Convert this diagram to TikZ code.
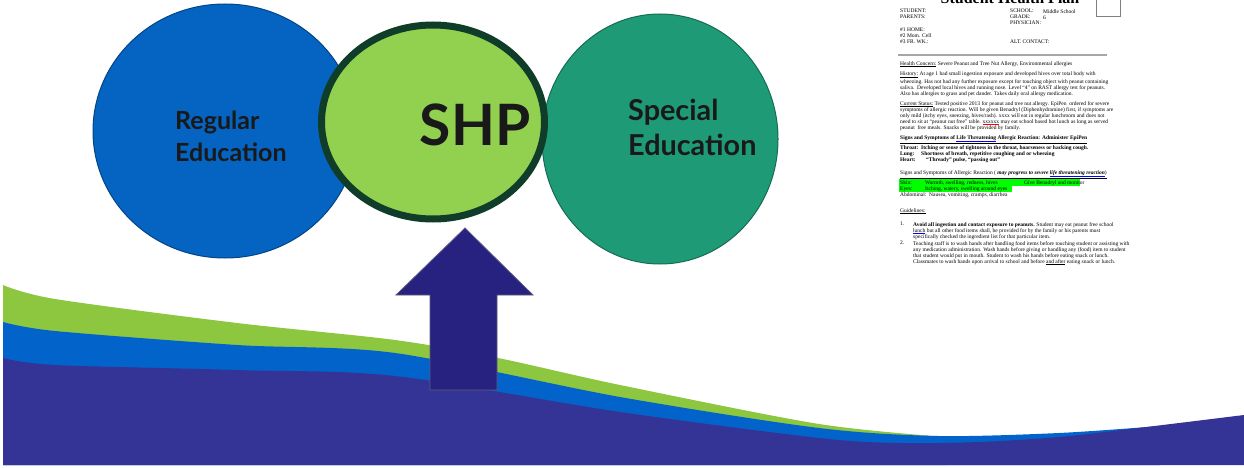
\documentclass[tikz,border=0pt]{standalone}
\usepackage{fontspec}
\setmainfont{Liberation Serif}
\newfontfamily\latofont{Lato}
\usetikzlibrary{shapes.geometric}

\definecolor{regblue}{HTML}{0563C1}
\definecolor{shpgreen}{HTML}{92D050}
\definecolor{shpring}{HTML}{0F3D2A}
\definecolor{spedteal}{HTML}{1F9A77}
\definecolor{arrowblue}{HTML}{27217F}
\definecolor{wavegreen}{HTML}{8DC63F}
\definecolor{waveblue}{HTML}{0263CB}
\definecolor{wavepurple}{HTML}{343497}
\definecolor{hilite}{HTML}{00FF00}

\tikzset{
  bubble/.style={ellipse, inner sep=0pt},
  bubbletext/.style={text=black!90, align=left, inner sep=0pt},
  doc/.style={font=\fontsize{5.5}{6}\selectfont, align=left, anchor=north west, inner sep=0pt},
}

\begin{document}
\begin{tikzpicture}[x=1pt, y=-1pt]
    \useasboundingbox (0,0) rectangle (1244,468);
    \clip (0,0) rectangle (1244,468);
    \fill[white] (0,0) rectangle (1244,468);

    \fill[wavegreen] plot[smooth] coordinates {(3,285) (55,299) (237,323) (395,340) (498,358) (620,385) (819,424) (947,437)}
        -- (947,465) -- (3,465) -- cycle;
    \fill[waveblue] plot[smooth] coordinates {(3,322) (55,331) (237,345) (395,353) (620,397) (819,428) (939,436) (1059,433) (1160,426)}
        -- (1160,465) -- (3,465) -- cycle;
    \fill[wavepurple] plot[smooth] coordinates {(3,358) (55,365) (237,370) (395,376) (620,412) (819,438) (899,443) (979,442) (1059,437) (1138,428) (1244,415)}
        -- (1244,465) -- (3,465) -- cycle;

    \node[bubble, fill=regblue, draw=regblue!70!black, line width=1pt, minimum width=264, minimum height=254] (regular) at (225,131) {};
    \node[bubble, fill=spedteal, draw=spedteal!70!black, line width=1pt, minimum width=236, minimum height=250] (special) at (660,139) {};
    \node[bubble, fill=shpgreen, draw=shpring, line width=7pt, minimum width=223, minimum height=194] (shp) at (433,122) {};

    \filldraw[fill=arrowblue, draw=gray!60!arrowblue, line width=0.8pt]
        (465,228) -- (533,295) -- (497,295) -- (497,390) -- (430,390) -- (430,295) -- (396,295) -- cycle;

    \node[bubbletext, anchor=west, font=\latofont\bfseries\fontsize{25}{32}\selectfont] (regtext) at (175,136) {Regular\\Education};
    \node[bubbletext, anchor=west, font=\latofont\bfseries\fontsize{28.8}{35}\selectfont] (spedtext) at (628,127) {Special\\Education};
    \node[bubbletext, font=\latofont\bfseries\fontsize{57}{57}\selectfont] (shptext) at (475,125) {SHP};

    \node[anchor=base, inner sep=0pt, font=\bfseries\fontsize{16}{16}\selectfont] (title) at (1010,4) {Student Health Plan};
    \draw[gray, line width=0.8pt] (1096,-4) rectangle (1120,16);

    \node[doc] (student) at (900,9) {STUDENT:\\PARENTS:\\[7pt]\#1 HOME:\\\#2 Mom. Cell\\\#3 FR. WK.:};
    \node[doc] (school) at (1010,9) {SCHOOL:\\GRADE:\\PHYSICIAN:};
    \node[doc] (schoolval) at (1043,9) {Middle School\\6};
    \node[doc] (alt) at (1010,40) {ALT. CONTACT:};
    \draw[gray!70, line width=2pt] (898,55) -- (1107,55);

    \node[doc] (concern) at (900,61) {\underline{Health Concern:} Severe Peanut and Tree Nut Allergy, Environmental allergies};
    \node[doc] (history) at (900,71) {\underline{History:} At age 1 had small ingestion exposure and developed hives over total body with\\
        wheezing. Has not had any further exposure except for touching object with peanut containing\\
        saliva.\ \ Developed local hives and running nose. Level ``4'' on RAST allergy test for peanuts.\\
        Also has allergies to grass and pet dander. Takes daily oral allergy medication.};
    \node[doc] (status) at (900,101) {\underline{Current Status:} Tested positive 2013 for peanut and tree nut allergy. EpiPen\ \ ordered for severe\\
        symptoms of allergic reaction. Will be given Benadryl (Diphenhydramine) first, if symptoms are\\
        only mild (itchy eyes, sneezing, hives/rash). xxxx will eat in regular lunchroom and does not\\
        need to sit at ``peanut nut free'' table. {\color{red}\underline{\color{black}xxxxxx}} may eat school based hot lunch as long as served\\
        peanut\ \ free meals. Snacks will be provided by family.};

    \node[doc, font=\bfseries\fontsize{5.5}{6}\selectfont] (lifesigns) at (900,135) {\underline{Signs and Symptoms of {\color{blue}\underline{\color{black}Life Threatening}} Allergic Reaction: Administer EpiPen}};
    \node[doc, font=\bfseries\fontsize{5.5}{6}\selectfont] (throat) at (900,145) {\makebox[21pt][l]{Throat:}Itching or sense of tightness in the throat, hoarseness or hacking cough.\\
        \makebox[21pt][l]{Lung:}Shortness of breath, repetitive coughing and or wheezing\\
        \makebox[26pt][l]{Heart:}``Thready'' pulse, ``passing out''};

    \node[doc] (allsigns) at (900,170) {\underline{Signs and Symptoms of Allergic Reaction (\textbf{\textit{ may progress to severe {\color{blue}\underline{\color{black}life threatening reaction}}}})}};
    \fill[hilite] (899,179) rectangle (1080,185.5);
    \fill[hilite] (899,185.5) rectangle (1012,191.5);
    \node[doc] (skin) at (900,180) {\makebox[25pt][l]{Skin:}\makebox[99pt][l]{Warmth, swelling, redness, hives}Give Benadryl and monitor\\
        \makebox[25pt][l]{Eyes:}Itching, watery, swelling around eyes\\
        Abdominal:\ \ Nausea, vomiting, cramps, diarrhea};

    \node[doc] (guide) at (900,208) {\underline{Guidelines:}};
    \node[doc] (num1) at (900,222) {1.};
    \node[doc] (item1) at (913,222) {\textbf{Avoid all ingestion and contact exposure to peanuts.} Student may eat peanut free school\\
        {\color{blue}\underline{\color{black}lunch}} but all other food items shall, be provided for by the family or his parents must\\
        specifically checked the ingredient list for that particular item.};
    \node[doc] (num2) at (900,241) {2.};
    \node[doc] (item2) at (913,241) {Teaching staff is to wash hands after handling food items before touching student or assisting with\\
        any medication administration. Wash hands before giving or handling any (food) item to student\\
        that student would put in mouth. Student to wash his hands before eating snack or lunch.\\
        Classmates to wash hands upon arrival to school and before \underline{and after} eating snack or lunch.};

\end{tikzpicture}
\end{document}
